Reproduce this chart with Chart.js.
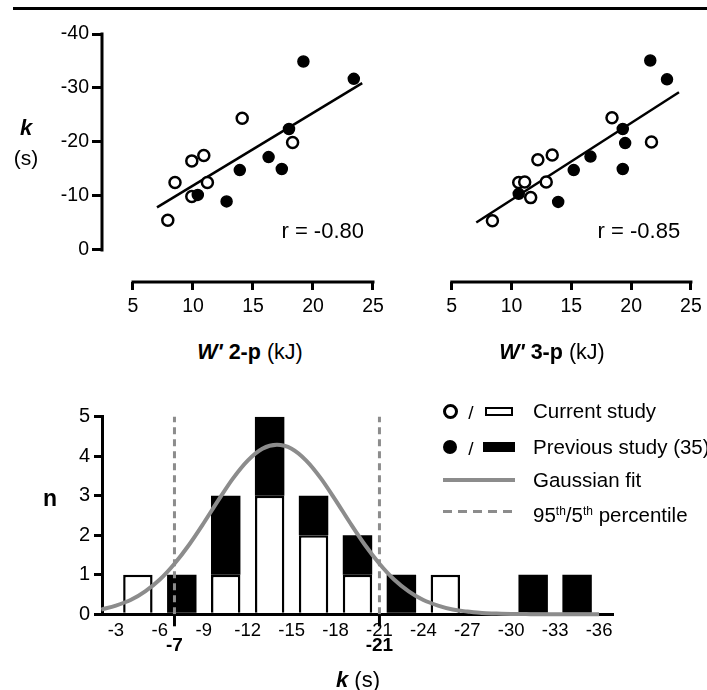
<!DOCTYPE html>
<html><head><meta charset="utf-8">
<script src="https://cdn.jsdelivr.net/npm/chart.js@4.4.1/dist/chart.umd.min.js"></script>
<style>
html,body{margin:0;padding:0;background:#fff;width:707px;height:690px;overflow:hidden;}
body{position:relative;font-family:"Liberation Sans",Arial,Helvetica,sans-serif;color:#000;}
canvas{position:absolute;}
.t{position:absolute;white-space:nowrap;transform:translate(-50%,-50%);line-height:1;}
.l{position:absolute;white-space:nowrap;transform:translate(0,-50%);line-height:1;font-size:20.5px;}
sup{font-size:12px;line-height:0;vertical-align:0.6em;}
</style></head><body>
<div style="position:absolute;left:13px;top:7px;width:694px;height:3px;background:#000"></div>
<canvas id="c1" width="400" height="340" style="left:0;top:0"></canvas>
<canvas id="c2" width="317" height="340" style="left:390px;top:0"></canvas>
<canvas id="c3" width="707" height="310" style="left:0;top:380px"></canvas>

<div class="t" style="left:26px;top:128px;font-size:22px;font-weight:bold;font-style:italic">k</div>
<div class="t" style="left:26px;top:157px;font-size:21px">(s)</div>
<div class="t" style="left:250px;top:353px;font-size:21.5px"><b><i>W'</i> 2-p</b> (kJ)</div>
<div class="t" style="left:552px;top:353px;font-size:21.5px"><b><i>W'</i> 3-p</b> (kJ)</div>
<div class="t" style="left:50px;top:498px;font-size:23px;font-weight:bold">n</div>
<div class="t" style="left:358px;top:680px;font-size:22px"><b><i>k</i></b> (s)</div>

<!-- legend -->
<div style="position:absolute;left:442.5px;top:403.5px;width:15px;height:15px;border:3px solid #000;border-radius:50%;box-sizing:border-box;background:#fff"></div>
<div class="t" style="left:471px;top:412px;font-size:19px">/</div>
<div style="position:absolute;left:485px;top:406.5px;width:28px;height:9px;border:2.5px solid #000;box-sizing:border-box"></div>
<div class="l" style="left:533px;top:411px">Current study</div>

<div style="position:absolute;left:443px;top:440px;width:14px;height:14px;border-radius:50%;background:#000"></div>
<div class="t" style="left:471px;top:448px;font-size:19px">/</div>
<div style="position:absolute;left:483px;top:442px;width:32px;height:10px;background:#000"></div>
<div class="l" style="left:533px;top:447px">Previous study (35)</div>

<div style="position:absolute;left:443px;top:478px;width:72px;height:4px;background:#8c8c8c"></div>
<div class="l" style="left:533px;top:480px">Gaussian fit</div>

<div style="position:absolute;left:443px;top:510px;width:72px;height:3px;background:repeating-linear-gradient(to right,#8c8c8c 0 9px,transparent 9px 15px)"></div>
<div class="l" style="left:533px;top:515px">95<sup>th</sup>/5<sup>th</sup> percentile</div>

<script>
Chart.defaults.font.family = '"Liberation Sans", Arial, Helvetica, sans-serif';
Chart.defaults.color = '#000';
Chart.defaults.animation = false;

// ---------- data: scatter panels ----------
const kTicks = [-40, -30, -20, -10, 0];
const wTicks = [5, 10, 15, 20, 25];

const w2pCurrentW  = [7.9, 8.5, 9.9, 9.9, 10.9, 11.2, 14.1, 18.3];
const w2pCurrentK  = [-5.5, -12.5, -9.9, -16.5, -17.5, -12.5, -24.4, -19.9];
const w2pPreviousW = [10.4, 12.8, 13.9, 16.3, 17.4, 18.0, 19.2, 23.4];
const w2pPreviousK = [-10.2, -9.0, -14.8, -17.2, -15.0, -22.4, -34.9, -31.7];
const w2pFitW = [7.0, 24.1];
const w2pFitK = [-7.9, -30.9];
const w2pR = 'r = -0.80';

const w3pCurrentW  = [8.4, 10.6, 11.1, 11.6, 12.2, 12.9, 13.4, 18.4, 21.7];
const w3pCurrentK  = [-5.4, -12.5, -12.6, -9.7, -16.7, -12.6, -17.6, -24.5, -20.0];
const w3pPreviousW = [10.6, 13.9, 15.2, 16.6, 19.3, 19.5, 19.3, 21.6, 23.0];
const w3pPreviousK = [-10.4, -8.9, -14.8, -17.3, -15.0, -19.8, -22.4, -35.1, -31.6];
const w3pFitW = [7.05, 24.0];
const w3pFitK = [-5.1, -29.2];
const w3pR = 'r = -0.85';

// ---------- data: histogram ----------
const binCenters    = [-4.5, -7.5, -10.5, -13.5, -16.5, -19.5, -22.5, -25.5, -28.5, -31.5, -34.5];
const currentCount  = [1, 0, 1, 3, 2, 1, 0, 1, 0, 0, 0];
const previousCount = [0, 1, 2, 2, 1, 1, 1, 0, 0, 1, 1];
const histXTicks = [-3, -6, -9, -12, -15, -18, -21, -24, -27, -30, -33, -36];
const histYTicks = [0, 1, 2, 3, 4, 5];
const percentileK = [-7, -21];
const gaussK = [-2,-3,-4,-5,-6,-7,-8,-9,-10,-11,-12,-13,-14,-15,-16,-17,-18,-19,-20,-21,-22,-23,-24,-25,-26,-27,-28,-29,-30,-31,-32,-33,-34,-35,-36];
const gaussN = [0.12,0.22,0.36,0.58,0.88,1.28,1.76,2.31,2.89,3.44,3.89,4.19,4.29,4.19,3.89,3.44,2.89,2.31,1.76,1.28,0.88,0.58,0.36,0.22,0.12,0.07,0.03,0.02,0.01,0.005,0,0,0,0,0];

const GRAY = '#8c8c8c';
const pts = (xs, ys) => xs.map((x, i) => ({x: x, y: ys[i]}));

function scatterChart(id, cur, prev, fit, rText, o) {
  const axesPlugin = {
    id: 'axes' + id,
    afterDraw(chart) {
      const {ctx, chartArea, scales: {x, y}} = chart;
      ctx.save();
      ctx.strokeStyle = '#000'; ctx.lineWidth = 3; ctx.lineCap = 'square';
      ctx.beginPath();
      ctx.moveTo(x.getPixelForValue(wTicks[0]), chartArea.bottom);
      ctx.lineTo(x.getPixelForValue(wTicks[wTicks.length - 1]), chartArea.bottom);
      if (o.showY) {
        ctx.moveTo(chartArea.left, y.getPixelForValue(kTicks[0]));
        ctx.lineTo(chartArea.left, y.getPixelForValue(kTicks[kTicks.length - 1]));
      }
      ctx.stroke();
      ctx.fillStyle = '#000';
      ctx.font = '22px "Liberation Sans", Arial, sans-serif';
      ctx.textAlign = 'right'; ctx.textBaseline = 'middle';
      ctx.fillText(rText, x.getPixelForValue(o.rX), y.getPixelForValue(o.rY));
      ctx.restore();
    }
  };
  return new Chart(document.getElementById(id), {
    type: 'scatter',
    data: {
      datasets: [
        {data: pts(fit[0], fit[1]), showLine: true, borderColor: '#000', borderWidth: 2.5, pointRadius: 0, order: 3},
        {data: pts(cur[0], cur[1]), backgroundColor: '#fff', borderColor: '#000', borderWidth: 2.5, pointRadius: 5.5, order: 2},
        {data: pts(prev[0], prev[1]), backgroundColor: '#000', borderColor: '#000', borderWidth: 1.5, pointRadius: 5.5, order: 1}
      ]
    },
    options: {
      responsive: false,
      layout: {padding: {left: o.padL, top: 34, right: o.padR, bottom: 0}},
      plugins: {legend: {display: false}, tooltip: {enabled: false}},
      scales: {
        x: {
          type: 'linear', min: o.xMin, max: o.xMax,
          afterBuildTicks: s => { s.ticks = wTicks.map(v => ({value: v})); },
          afterFit: s => { s.height = 58; },
          grid: {display: true, drawOnChartArea: false, drawTicks: true, tickLength: 8, lineWidth: 3, color: '#000'},
          border: {display: false},
          ticks: {font: {size: 19.5}, padding: 5, maxRotation: 0, autoSkip: false, color: '#000'}
        },
        y: {
          type: 'linear', reverse: true, min: -40, max: 5.93, display: o.showY,
          afterBuildTicks: s => { s.ticks = kTicks.map(v => ({value: v})); },
          afterFit: s => { s.width = o.showY ? 102 : 0; },
          grid: {display: true, drawOnChartArea: false, drawTicks: true, tickLength: 10, lineWidth: 3, color: '#000'},
          border: {display: false},
          ticks: {font: {size: 19.5}, padding: 3, autoSkip: false, color: '#000'}
        }
      }
    },
    plugins: [axesPlugin]
  });
}

scatterChart('c1', [w2pCurrentW, w2pCurrentK], [w2pPreviousW, w2pPreviousK], [w2pFitW, w2pFitK], w2pR,
  {showY: true, padL: 0, padR: 15, xMin: 2.4167, xMax: 26, rX: 24.25, rY: -3.3});
scatterChart('c2', [w3pCurrentW, w3pCurrentK], [w3pPreviousW, w3pPreviousK], [w3pFitW, w3pFitK], w3pR,
  {showY: false, padL: 30, padR: 6, xMin: 2.344, xMax: 25.664, rX: 24.1, rY: -3.3});

// ---------- histogram ----------
const toNull = v => (v === 0 ? null : v);
const pctPlugin = {
  id: 'pct',
  afterDraw(chart) {
    const {ctx, chartArea, scales: {x}} = chart;
    ctx.save();
    ctx.strokeStyle = '#000'; ctx.lineWidth = 3; ctx.fillStyle = '#000';
    ctx.font = 'bold 19px "Liberation Sans", Arial, sans-serif';
    ctx.textAlign = 'center'; ctx.textBaseline = 'middle';
    percentileK.forEach(v => {
      const px = x.getPixelForValue(v);
      ctx.beginPath(); ctx.moveTo(px, chartArea.bottom); ctx.lineTo(px, chartArea.bottom + 12); ctx.stroke();
      ctx.fillText(String(v), px, chartArea.bottom + 31);
    });
    ctx.restore();
  }
};

const pctDatasets = percentileK.map((v, i) => ({
  type: 'line', data: [{x: v, y: histYTicks[0]}, {x: v, y: histYTicks[histYTicks.length - 1]}],
  borderColor: GRAY, borderWidth: 3, borderDash: [7, 5], pointRadius: 0, stack: 'p' + i, order: 0, clip: false
}));

new Chart(document.getElementById('c3'), {
  type: 'bar',
  data: {
    datasets: [
      {type: 'bar', data: binCenters.map((x, i) => ({x: x, y: toNull(currentCount[i])})),
       backgroundColor: '#fff', borderColor: '#000', borderWidth: 2.5, order: 2,
       categoryPercentage: 1, barPercentage: 0.67},
      {type: 'bar', data: binCenters.map((x, i) => ({x: x, y: toNull(previousCount[i])})),
       backgroundColor: '#000', borderColor: '#000', borderWidth: 0, order: 3,
       categoryPercentage: 1, barPercentage: 0.67},
      {type: 'line', data: pts(gaussK, gaussN), borderColor: GRAY, borderWidth: 4, pointRadius: 0,
       cubicInterpolationMode: 'monotone', stack: 'gauss', order: 1, clip: false},
      ...pctDatasets
    ]
  },
  options: {
    responsive: false,
    layout: {padding: {left: 0, top: 36.7, right: 93.3, bottom: 0}},
    plugins: {legend: {display: false}, tooltip: {enabled: false}},
    scales: {
      x: {
        type: 'linear', reverse: true, min: -37, max: -2.05, stacked: true, offset: false,
        afterBuildTicks: s => { s.ticks = histXTicks.map(v => ({value: v})); },
        afterFit: s => { s.height = 75.7; },
        grid: {display: false, drawTicks: false, offset: false},
        border: {display: true, color: '#000', width: 3},
        ticks: {font: {size: 18.5}, padding: 6, maxRotation: 0, autoSkip: false, color: '#000'}
      },
      y: {
        type: 'linear', min: 0, max: 5, stacked: true,
        afterBuildTicks: s => { s.ticks = histYTicks.map(v => ({value: v})); },
        afterFit: s => { s.width = 102; },
        grid: {display: true, drawOnChartArea: false, drawTicks: true, tickLength: 8, lineWidth: 3, color: '#000'},
        border: {display: true, color: '#000', width: 3},
        ticks: {font: {size: 20}, padding: 4, autoSkip: false, color: '#000'}
      }
    }
  },
  plugins: [pctPlugin]
});
</script>
</body></html>
